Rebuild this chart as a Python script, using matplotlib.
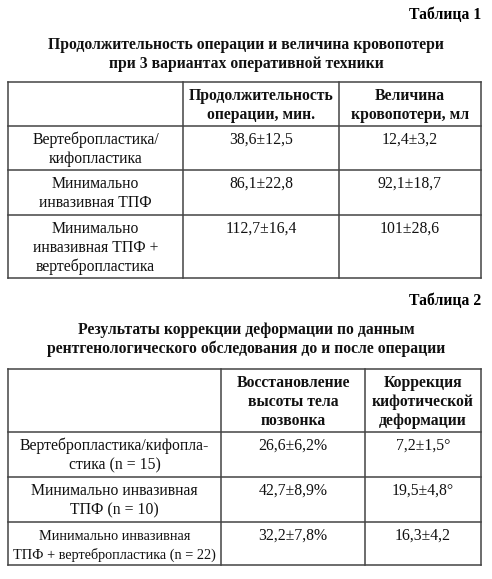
import matplotlib
matplotlib.use("Agg")
import matplotlib.pyplot as plt

t1_label = "Таблица 1"
t1_title = ["Продолжительность операции и величина кровопотери", "при 3 вариантах оперативной техники"]
t1_cols = [["Продолжительность", "операции, мин."], ["Величина", "кровопотери, мл"]]
t1_rows = [["Вертебропластика/", "кифопластика"], ["Минимально", "инвазивная ТПФ"],
           ["Минимально", "инвазивная ТПФ +", "вертебропластика"]]
t1_duration = ["38,6±12,5", "86,1±22,8", "112,7±16,4"]
t1_blood = ["12,4±3,2", "92,1±18,7", "101±28,6"]

t2_label = "Таблица 2"
t2_title = ["Результаты коррекции деформации по данным", "рентгенологического обследования до и после операции"]
t2_cols = [["Восстановление", "высоты тела", "позвонка"], ["Коррекция", "кифотической", "деформации"]]
t2_rows = [["Вертебропластика/кифопла-", "стика (n = 15)"], ["Минимально инвазивная", "ТПФ (n = 10)"],
           ["Минимально инвазивная", "ТПФ + вертебропластика (n = 22)"]]
t2_height = ["26,6±6,2%", "42,7±8,9%", "32,2±7,8%"]
t2_kyph = ["7,2±1,5°", "19,5±4,8°", "16,3±4,2"]

fig = plt.figure(figsize=(4.92, 5.79), dpi=100)
ax = fig.add_axes([0, 0, 1, 1])
ax.set_xlim(0, 492); ax.set_ylim(579, 0); ax.axis("off")
FONT = "Liberation Serif"
FS = 11.3
LH = 19
lc = "#444444"

def lines(x, y, ls, bold=False, ha="center", fs=FS, lh=LH):
    for i, s in enumerate(ls):
        ax.text(x, y + i * lh, s, ha=ha, va="center", fontsize=fs, family=FONT,
                fontweight="bold" if bold else "normal", color="#111111")

def table(x0, x1, xs, ys, label, ly, title, ty, cols, rows, v1, v2, hdr_pad, row_pad, lh_hdr):
    ax.text(481, ly, label, ha="right", va="center", fontsize=FS, family=FONT, fontweight="bold")
    lines(246, ty, title, bold=True)
    for y in ys:
        ax.plot([x0, x1], [y, y], color=lc, lw=1.1)
    for x in [x0] + xs + [x1]:
        ax.plot([x, x], [ys[0], ys[-1]], color=lc, lw=1.1)
    cx = [(x0 + xs[0]) / 2, (xs[0] + xs[1]) / 2, (xs[1] + x1) / 2]
    lines(cx[1], ys[0] + hdr_pad, cols[0], bold=True, lh=lh_hdr)
    lines(cx[2], ys[0] + hdr_pad, cols[1], bold=True, lh=lh_hdr)
    for i in range(3):
        top = ys[i + 1] + row_pad
        fs = FS if max(len(s) for s in rows[i]) < 28 else 10.3
        lines(cx[0], top, rows[i], fs=fs)
        lines(cx[1], top, [v1[i]])
        lines(cx[2], top, [v2[i]])

table(8, 481, [183, 339], [82, 126, 170, 215, 278], t1_label, 15, t1_title, 45,
      t1_cols, t1_rows, t1_duration, t1_blood, 14, 14, 19)
table(8, 481, [221, 365], [369, 432, 477, 522, 565], t2_label, 301, t2_title, 330,
      t2_cols, t2_rows, t2_height, t2_kyph, 14, 14, 19)

fig.savefig("out.png", dpi=100)
